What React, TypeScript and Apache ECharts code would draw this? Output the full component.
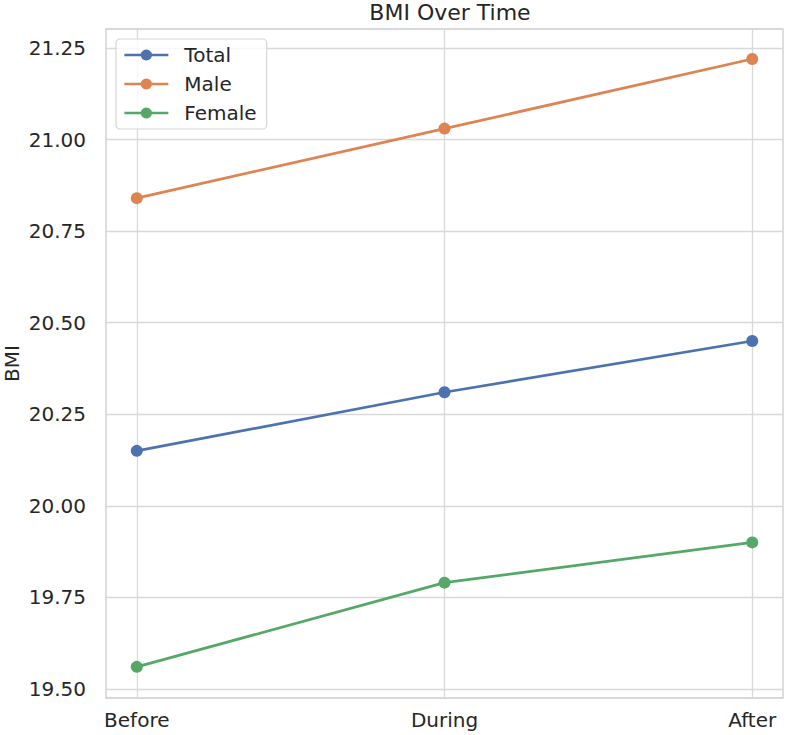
import React, { useEffect, useRef } from "react";
import * as echarts from "echarts";

const categories = ["Before", "During", "After"];
const totalValues = [20.15, 20.31, 20.45];
const maleValues = [20.84, 21.03, 21.22];
const femaleValues = [19.56, 19.79, 19.9];
const yTicks = [19.5, 19.75, 20.0, 20.25, 20.5, 20.75, 21.0, 21.25];
const xTicks = [0, 1, 2];

const FONT = "DejaVu Sans";
const TEXT = "#262626";

export default function App() {
  const ref = useRef<HTMLDivElement>(null);
  useEffect(() => {
    document.body.style.margin = "0";
    if (!ref.current) return;
    const chart = echarts.init(ref.current, undefined, { renderer: "svg" });
    const mk = (name: string, vals: number[], color: string) => ({
      name,
      type: "line",
      data: vals.map((v, i) => [i, v]),
      symbol: "circle",
      symbolSize: 12,
      lineStyle: { width: 2.7, color },
      itemStyle: { color },
      color,
    });
    chart.setOption({
      animation: false,
      backgroundColor: "#ffffff",
      textStyle: { fontFamily: FONT },
      title: {
        text: "BMI Over Time",
        left: 445,
        textAlign: "center",
        top: -4,
        textStyle: { fontFamily: FONT, fontSize: 22, fontWeight: "normal", color: TEXT },
      },
      legend: {
        orient: "vertical",
        left: 116,
        top: 39,
        padding: [6, 10, 6, 7],
        itemWidth: 44,
        itemHeight: 14,
        itemGap: 9,
        backgroundColor: "rgba(255,255,255,0.8)",
        borderColor: "#d5d5d5",
        borderWidth: 1.2,
        borderRadius: 4,
        lineStyle: { width: 2.7 },
        textStyle: { fontFamily: FONT, fontSize: 20, color: TEXT, padding: [0, 0, 0, 11] },
        data: ["Total", "Male", "Female"],
      },
      grid: {
        left: 106,
        right: 3,
        top: 29,
        bottom: 37,
        show: true,
        borderColor: "#cccccc",
        borderWidth: 1.3,
        containLabel: false,
        outerBoundsMode: "none",
      },
      xAxis: {
        type: "value",
        min: -0.1,
        max: 2.1,
        axisLine: { show: false },
        axisTick: { show: false, customValues: xTicks },
        axisLabel: {
          customValues: xTicks,
          formatter: (v: number) => categories[Math.round(v)] ?? "",
          fontFamily: FONT,
          fontSize: 20,
          color: TEXT,
          margin: 12,
        },
        splitLine: { show: true, lineStyle: { color: "#d9d9d9", width: 1.3 } },
      },
      yAxis: {
        type: "value",
        min: 19.475,
        max: 21.302,
        name: "BMI",
        nameLocation: "middle",
        nameGap: 84,
        nameMoveOverlap: false,
        nameTextStyle: { fontFamily: FONT, fontSize: 20, color: TEXT },
        axisLine: { show: false },
        axisTick: { show: false, customValues: yTicks },
        axisLabel: {
          customValues: yTicks,
          formatter: (v: number) => v.toFixed(2),
          fontFamily: FONT,
          fontSize: 20,
          color: TEXT,
          margin: 20,
        },
        splitLine: { show: true, lineStyle: { color: "#d9d9d9", width: 1.3 } },
      },
      series: [
        mk("Total", totalValues, "#4c72b0"),
        mk("Male", maleValues, "#dd8452"),
        mk("Female", femaleValues, "#55a868"),
      ],
    });
    return () => chart.dispose();
  }, []);
  return <div ref={ref} style={{ width: 786, height: 735 }} />;
}
